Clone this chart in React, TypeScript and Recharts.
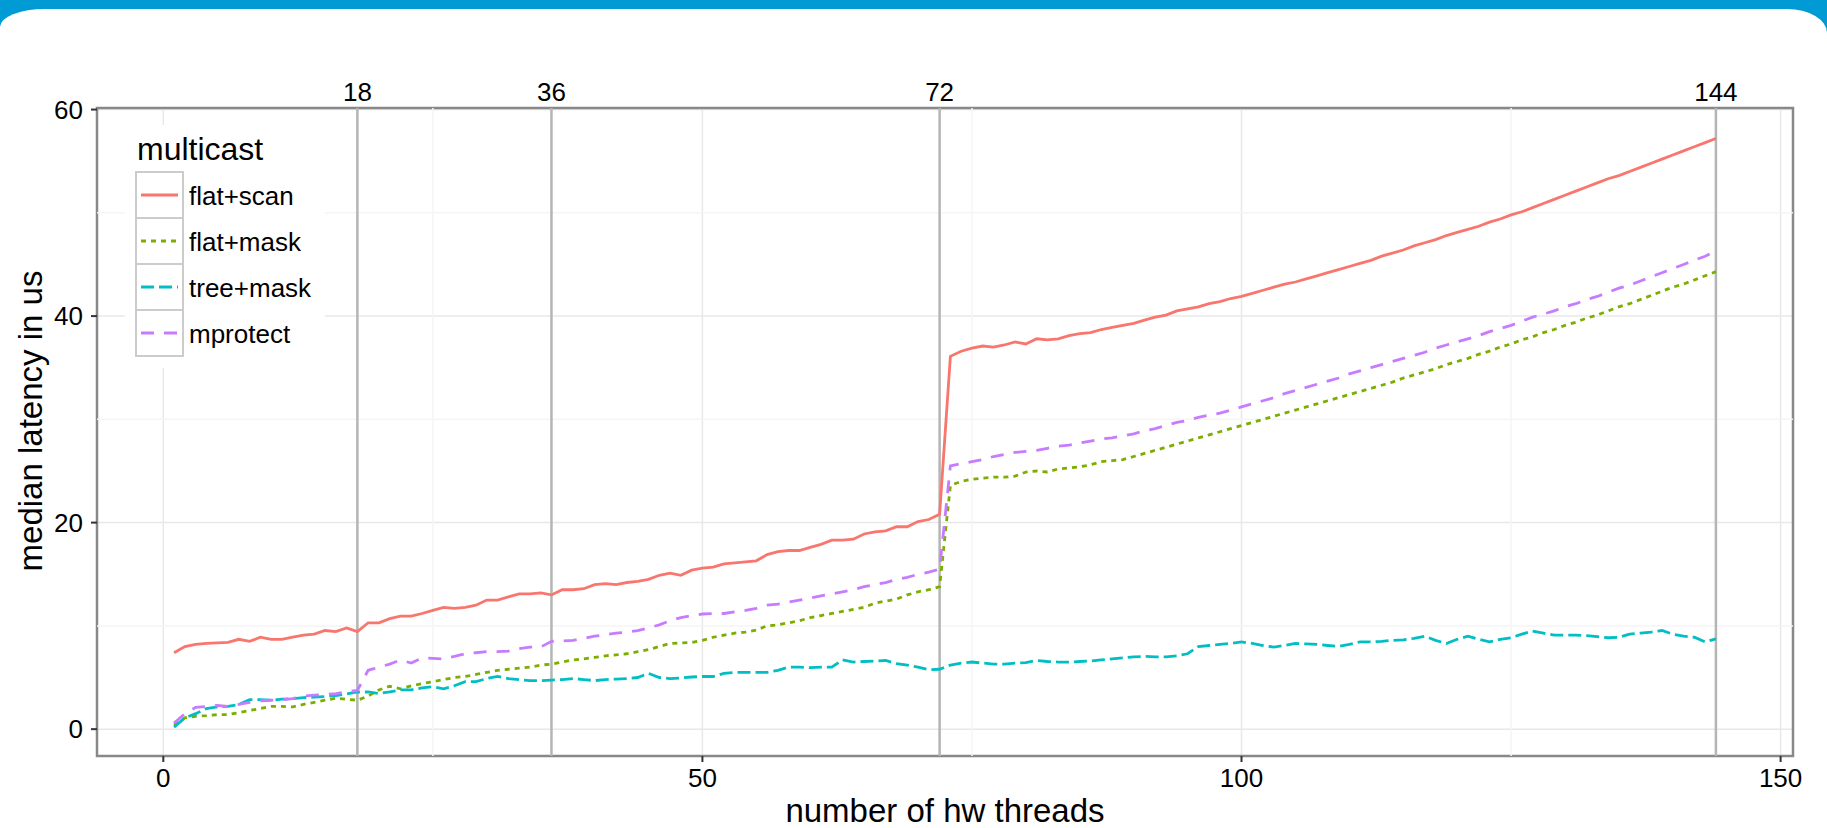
import React from 'react';
import {
  LineChart,
  Line,
  XAxis,
  YAxis,
  CartesianGrid,
  ReferenceLine,
  ReferenceArea,
  Legend,
  Label,
} from 'recharts';

const FONT = '"Liberation Sans", Arial, Helvetica, sans-serif';

// number of hw threads (x categories)
const threads = [
  1, 2, 3, 4, 5, 6, 7, 8, 9, 10,
  11, 12, 13, 14, 15, 16, 17, 18, 19, 20,
  21, 22, 23, 24, 25, 26, 27, 28, 29, 30,
  31, 32, 33, 34, 35, 36, 37, 38, 39, 40,
  41, 42, 43, 44, 45, 46, 47, 48, 49, 50,
  51, 52, 53, 54, 55, 56, 57, 58, 59, 60,
  61, 62, 63, 64, 65, 66, 67, 68, 69, 70,
  71, 72, 73, 74, 75, 76, 77, 78, 79, 80,
  81, 82, 83, 84, 85, 86, 87, 88, 89, 90,
  91, 92, 93, 94, 95, 96, 97, 98, 99, 100,
  101, 102, 103, 104, 105, 106, 107, 108, 109, 110,
  111, 112, 113, 114, 115, 116, 117, 118, 119, 120,
  121, 122, 123, 124, 125, 126, 127, 128, 129, 130,
  131, 132, 133, 134, 135, 136, 137, 138, 139, 140,
  141, 142, 143, 144,
];

const flatScan = [
  7.4, 8.0, 8.2, 8.3, 8.35, 8.4, 8.7, 8.5, 8.9, 8.7,
  8.7, 8.9, 9.1, 9.2, 9.55, 9.45, 9.8, 9.45, 10.3, 10.3,
  10.7, 10.95, 10.95, 11.2, 11.5, 11.8, 11.7, 11.8, 12.0, 12.5,
  12.5, 12.8, 13.1, 13.1, 13.2, 13.0, 13.5, 13.5, 13.6, 14.0,
  14.1, 14.0, 14.2, 14.3, 14.5, 14.9, 15.1, 14.9, 15.4, 15.6,
  15.7, 16.0, 16.1, 16.2, 16.3, 16.9, 17.2, 17.3, 17.3, 17.6,
  17.9, 18.3, 18.3, 18.4, 18.9, 19.1, 19.2, 19.6, 19.6, 20.1,
  20.3, 20.8, 36.1, 36.6, 36.9, 37.1, 37.0, 37.2, 37.5, 37.3,
  37.8, 37.7, 37.8, 38.1, 38.3, 38.4, 38.7, 38.9, 39.1, 39.3,
  39.6, 39.9, 40.1, 40.5, 40.7, 40.9, 41.2, 41.4, 41.7, 41.9,
  42.2, 42.5, 42.8, 43.1, 43.3, 43.6, 43.9, 44.2, 44.5, 44.8,
  45.1, 45.4, 45.8, 46.1, 46.4, 46.8, 47.1, 47.4, 47.8, 48.1,
  48.4, 48.7, 49.1, 49.4, 49.8, 50.1, 50.5, 50.9, 51.3, 51.7,
  52.1, 52.5, 52.9, 53.3, 53.6, 54.0, 54.4, 54.8, 55.2, 55.6,
  56.0, 56.4, 56.8, 57.2,
];

const flatMask = [
  0.4, 1.1, 1.25, 1.3, 1.4, 1.4, 1.6, 1.8, 2.0, 2.2,
  2.2, 2.15, 2.4, 2.6, 2.8, 3.0, 2.9, 2.8, 3.2, 3.8,
  4.15, 3.9, 4.2, 4.4, 4.6, 4.8, 5.0, 5.1, 5.3, 5.5,
  5.7, 5.8, 5.9, 6.0, 6.2, 6.3, 6.5, 6.7, 6.8, 6.95,
  7.1, 7.2, 7.3, 7.5, 7.7, 8.0, 8.3, 8.35, 8.4, 8.6,
  8.9, 9.1, 9.3, 9.4, 9.6, 10.0, 10.1, 10.3, 10.5, 10.8,
  11.0, 11.2, 11.4, 11.6, 11.8, 12.2, 12.4, 12.6, 13.0, 13.3,
  13.5, 13.8, 23.6, 24.0, 24.2, 24.3, 24.4, 24.4, 24.5, 24.9,
  25.0, 24.9, 25.2, 25.3, 25.4, 25.6, 25.9, 26.0, 26.1, 26.4,
  26.7, 27.0, 27.3, 27.6, 27.9, 28.2, 28.5, 28.8, 29.1, 29.4,
  29.7, 30.0, 30.3, 30.6, 30.9, 31.2, 31.5, 31.8, 32.1, 32.4,
  32.7, 33.0, 33.3, 33.6, 34.0, 34.3, 34.6, 34.9, 35.3, 35.6,
  35.9, 36.3, 36.6, 37.0, 37.3, 37.7, 38.0, 38.4, 38.7, 39.1,
  39.4, 39.8, 40.1, 40.5, 40.9, 41.2, 41.6, 42.0, 42.4, 42.8,
  43.1, 43.5, 43.9, 44.3,
];

const treeMask = [
  0.2, 1.1, 1.5, 2.0, 2.15, 2.2, 2.4, 2.85, 2.85, 2.8,
  2.9, 2.95, 3.05, 3.1, 3.15, 3.25, 3.4, 3.6, 3.6, 3.45,
  3.6, 3.8, 3.8, 4.0, 4.1, 3.9, 4.2, 4.6, 4.6, 4.9,
  5.1, 4.9, 4.8, 4.7, 4.7, 4.75, 4.8, 4.9, 4.8, 4.7,
  4.8, 4.85, 4.9, 5.0, 5.4, 5.0, 4.9, 4.95, 5.05, 5.1,
  5.1, 5.4, 5.5, 5.5, 5.5, 5.5, 5.7, 6.0, 6.0, 5.95,
  6.0, 6.0, 6.7, 6.5, 6.55, 6.6, 6.65, 6.35, 6.2, 6.0,
  5.75, 5.8, 6.2, 6.4, 6.5, 6.4, 6.3, 6.3, 6.4, 6.45,
  6.65, 6.55, 6.5, 6.5, 6.55, 6.6, 6.7, 6.8, 6.9, 7.0,
  7.05, 7.0, 7.0, 7.1, 7.3, 8.0, 8.1, 8.2, 8.3, 8.45,
  8.3, 8.1, 7.95, 8.1, 8.3, 8.25, 8.2, 8.1, 8.0, 8.2,
  8.45, 8.45, 8.5, 8.6, 8.65, 8.8, 9.0, 8.6, 8.3, 8.7,
  9.0, 8.7, 8.45, 8.7, 8.85, 9.2, 9.5, 9.3, 9.1, 9.1,
  9.1, 9.05, 8.95, 8.85, 8.9, 9.2, 9.3, 9.4, 9.55, 9.2,
  9.0, 8.9, 8.45, 8.75,
];

const mprotect = [
  0.6, 1.5, 2.1, 2.2, 2.3, 2.2, 2.4, 2.6, 2.75, 2.8,
  2.85, 2.95, 3.2, 3.3, 3.35, 3.45, 3.6, 3.75, 5.7, 6.0,
  6.3, 6.7, 6.4, 6.9, 6.85, 6.8, 7.05, 7.3, 7.4, 7.5,
  7.5, 7.55, 7.8, 7.95, 7.95, 8.5, 8.55, 8.6, 8.8, 9.0,
  9.15, 9.3, 9.4, 9.55, 9.8, 10.1, 10.5, 10.8, 11.0, 11.15,
  11.2, 11.2, 11.35, 11.5, 11.7, 12.0, 12.1, 12.3, 12.5, 12.7,
  12.9, 13.1, 13.3, 13.5, 13.8, 14.0, 14.2, 14.5, 14.7, 15.0,
  15.2, 15.5, 25.5, 25.7, 25.9, 26.1, 26.4, 26.6, 26.8, 26.9,
  27.0, 27.2, 27.4, 27.5, 27.7, 27.9, 28.1, 28.2, 28.4, 28.6,
  28.9, 29.1, 29.4, 29.7, 29.9, 30.2, 30.4, 30.6, 30.9, 31.2,
  31.5, 31.8, 32.1, 32.5, 32.8, 33.1, 33.4, 33.7, 34.0, 34.4,
  34.7, 35.0, 35.3, 35.6, 35.9, 36.2, 36.5, 36.9, 37.2, 37.5,
  37.8, 38.1, 38.5, 38.8, 39.1, 39.5, 39.9, 40.2, 40.5, 40.9,
  41.2, 41.6, 41.9, 42.3, 42.7, 43.0, 43.4, 43.8, 44.2, 44.6,
  45.0, 45.4, 45.8, 46.3,
];

const seriesKeys = ['flatScan', 'flatMask', 'treeMask', 'mprotect'];
const seriesNames = ['flat+scan', 'flat+mask', 'tree+mask', 'mprotect'];
const seriesColors = ['#F8766D', '#7CAE00', '#00BFC4', '#C77CFF'];
const seriesDash = ['', '5 5', '13 5', '13 10'];
const seriesValues = [flatScan, flatMask, treeMask, mprotect];

const xTicks = [0, 50, 100, 150];
const yTicks = [0, 20, 40, 60];
const xMinor = [25, 75, 125];
const yMinor = [10, 30, 50];
const coreMarks = [18, 36, 72, 144];
const xDomain = [-6.15, 151.15];
const yDomain = [-2.6, 60.15];

const legendTitle = 'multicast';
const xTitle = 'number of hw threads';
const yTitle = 'median latency in us';

const rows = threads.map((t, i) => {
  const r: any = { t };
  seriesKeys.forEach((k, j) => {
    r[k] = seriesValues[j][i];
  });
  return r;
});

const LegendBox = () => (
  <div style={{ width: 200, height: 243, background: '#fff', fontFamily: FONT }}>
    <svg width={200} height={243} style={{ display: 'block' }}>
      <text x={12} y={35} fontSize={32} fill="#000" fontFamily={FONT}>
        {legendTitle}
      </text>
      {seriesNames.map((name, i) => (
        <g key={name} transform={`translate(11, ${47 + i * 46})`}>
          <rect x={0} y={0} width={47} height={46} fill="#fff" stroke="#cccccc" strokeWidth={2} />
          <line
            x1={5}
            x2={42}
            y1={23}
            y2={23}
            stroke={seriesColors[i]}
            strokeWidth={2.8}
            strokeDasharray={seriesDash[i] || undefined}
          />
          <text x={53} y={33} fontSize={26} fill="#000" fontFamily={FONT}>
            {name}
          </text>
        </g>
      ))}
    </svg>
  </div>
);

const XTitle = (props: any) => {
  const vb = props.viewBox || { x: 97, y: 756, width: 1696, height: 40 };
  return (
    <text
      x={vb.x + vb.width / 2}
      y={vb.y + 66}
      textAnchor="middle"
      fontSize={33}
      fill="#000"
      fontFamily={FONT}
    >
      {xTitle}
    </text>
  );
};

const YTitle = (props: any) => {
  const vb = props.viewBox || { x: 0, y: 108, width: 97, height: 648 };
  const cx = vb.x + 42;
  const cy = vb.y + vb.height / 2 - 11;
  return (
    <text
      x={cx}
      y={cy}
      textAnchor="middle"
      fontSize={33}
      fill="#000"
      fontFamily={FONT}
      transform={`rotate(-90, ${cx}, ${cy})`}
    >
      {yTitle}
    </text>
  );
};

export default function App() {
  return (
    <div
      style={{
        position: 'absolute',
        left: 0,
        top: 0,
        width: 1827,
        height: 828,
        background: '#009BD5',
        overflow: 'hidden',
      }}
    >
      <div
        style={{
          position: 'absolute',
          left: 0,
          top: 9,
          width: 1827,
          height: 819,
          background: '#fff',
          borderTopLeftRadius: '45px 18px',
          borderTopRightRadius: '40px 24px',
        }}
      />
      <div style={{ position: 'absolute', left: 0, top: 0 }}>
        <LineChart
          width={1827}
          height={828}
          data={rows}
          margin={{ top: 108, right: 34, bottom: 32, left: 0 }}
          style={{ fontFamily: FONT }}
        >
          <CartesianGrid stroke="#e8e8e8" strokeWidth={1.5} />
          {yMinor.map((v) => (
            <ReferenceLine key={`ym${v}`} y={v} stroke="#f5f5f5" strokeWidth={1.5} />
          ))}
          {xMinor.map((v) => (
            <ReferenceLine key={`xm${v}`} x={v} stroke="#f5f5f5" strokeWidth={1.5} />
          ))}
          <XAxis
            type="number"
            dataKey="t"
            domain={xDomain}
            ticks={xTicks}
            allowDataOverflow
            axisLine={false}
            tickLine={{ stroke: '#333', strokeWidth: 2 }}
            tickSize={6}
            tickMargin={7}
            height={40}
            tick={{ fill: '#000', fontSize: 26, fontFamily: FONT }}
            label={<Label content={XTitle} />}
          />
          <YAxis
            type="number"
            domain={yDomain}
            ticks={yTicks}
            allowDataOverflow
            axisLine={false}
            tickLine={{ stroke: '#333', strokeWidth: 2 }}
            tickSize={6}
            tickMargin={8}
            width={97}
            tick={{ fill: '#000', fontSize: 26, fontFamily: FONT }}
            label={<Label content={YTitle} />}
          />
          {coreMarks.map((v) => (
            <ReferenceLine
              key={`c${v}`}
              x={v}
              stroke="#b5b5b5"
              strokeWidth={2.5}
              label={{ value: String(v), position: 'top', offset: 7, fill: '#000', fontSize: 26, fontFamily: FONT }}
            />
          ))}
          {seriesKeys.map((k, i) => (
            <Line
              key={k}
              type="linear"
              dataKey={k}
              name={seriesNames[i]}
              stroke={seriesColors[i]}
              strokeWidth={2.8}
              strokeDasharray={seriesDash[i] || undefined}
              dot={false}
              activeDot={false}
              isAnimationActive={false}
            />
          ))}
          <ReferenceArea
            x1={xDomain[0]}
            x2={xDomain[1]}
            y1={yDomain[0]}
            y2={yDomain[1]}
            fill="none"
            fillOpacity={0}
            stroke="#888888"
            strokeWidth={2.5}
            ifOverflow="visible"
          />
          <Legend
            layout="vertical"
            align="center"
            verticalAlign="middle"
            content={LegendBox}
            wrapperStyle={{ left: 125, top: 125, width: 200, height: 243 }}
          />
        </LineChart>
      </div>
    </div>
  );
}
